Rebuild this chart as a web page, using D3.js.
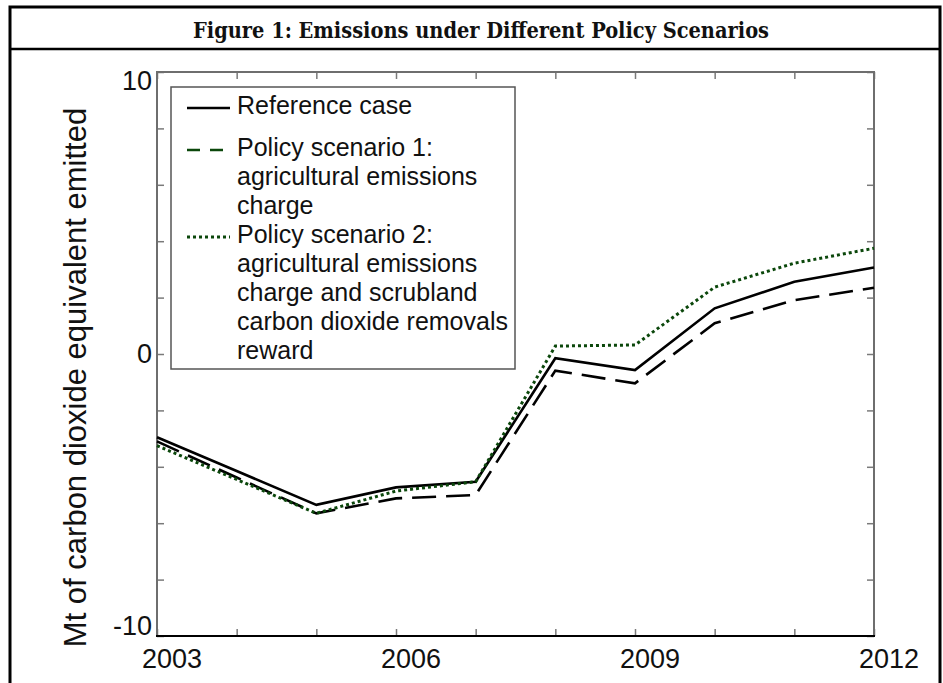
<!DOCTYPE html>
<html>
<head>
<meta charset="utf-8">
<script src="https://cdn.jsdelivr.net/npm/d3@7"></script>
<style>
  body { margin: 0; background: #fff; }
  svg { display: block; font-family: "Liberation Sans", Arial, sans-serif; }
</style>
</head>
<body>
<svg id="chart" width="943" height="683"></svg>
<script>
// values (Mt CO2-e)
const years         = [2003, 2004, 2005, 2006, 2007, 2008, 2009, 2010, 2011, 2012];
const referenceCase = [-2.95, -4.15, -5.35, -4.73, -4.53, -0.15, -0.57, 1.62, 2.56, 3.07];
const scenario1     = [-3.1, -4.38, -5.65, -5.12, -5.0, -0.59, -1.04, 1.09, 1.91, 2.35];
const scenario2     = [-3.25, -4.45, -5.65, -4.86, -4.53, 0.28, 0.32, 2.37, 3.22, 3.75];

const xTickLabels = [2003, 2006, 2009, 2012];
const yTickLabels = [10, 0, -10];

const legendLines = [
    ["Reference case"],
    ["Policy scenario 1:", "agricultural emissions", "charge"],
    ["Policy scenario 2:", "agricultural emissions", "charge and scrubland",
     "carbon dioxide removals", "reward"]
];

const green = "#0b470b";
const styles = [
    { stroke: "#000", dash: null,    legendStroke: "#000", legendDash: null,    width: 2.6 },
    { stroke: "#000", dash: "24,10", legendStroke: green,  legendDash: "13,10", width: 2.6 },
    { stroke: green,  dash: "3,3",   legendStroke: green,  legendDash: "3,3",   width: 3 }
];

const svg = d3.select("#chart");

// outer frame + title band
const frame = svg.append("g").attr("stroke", "#000").attr("fill", "none");
frame.append("rect").attr("x", 10).attr("y", 7).attr("width", 930).attr("height", 690).attr("stroke-width", 3);
frame.append("line").attr("x1", 10).attr("x2", 940).attr("y1", 49).attr("y2", 49).attr("stroke-width", 2.5);

svg.append("text")
    .attr("x", 481).attr("y", 38)
    .attr("text-anchor", "middle")
    .attr("font-family", "'DejaVu Serif Condensed', 'DejaVu Serif', serif")
    .attr("font-weight", "bold")
    .attr("font-size", 22)
    .attr("textLength", 576)
    .attr("lengthAdjust", "spacingAndGlyphs")
    .attr("fill", "#111")
    .text("Figure 1: Emissions under Different Policy Scenarios");

// plot area
const plotLeft = 157, plotRight = 874, plotTop = 72, plotBottom = 636;

const x = d3.scaleLinear().domain([2003, 2012]).range([plotLeft, plotRight]);
const y = d3.scaleLinear().domain([-10, 10]).range([plotBottom, plotTop]);

const tickColor = "#7a7a7a";
const yearTicks = d3.range(2003, 2013);
const valueTicks = d3.range(-10, 11, 2);

function styleAxis(g) {
    g.select(".domain").remove();
    g.selectAll("text").remove();
    g.selectAll(".tick line").attr("stroke", tickColor).attr("stroke-width", 1.5);
}

svg.append("g").attr("transform", `translate(0,${plotBottom})`)
    .call(d3.axisBottom(x).tickValues(yearTicks).tickSize(-7)).call(styleAxis);
svg.append("g").attr("transform", `translate(0,${plotTop})`)
    .call(d3.axisTop(x).tickValues(yearTicks).tickSize(-7)).call(styleAxis);
svg.append("g").attr("transform", `translate(${plotLeft},0)`)
    .call(d3.axisLeft(y).tickValues(valueTicks).tickSize(-7)).call(styleAxis);
svg.append("g").attr("transform", `translate(${plotRight},0)`)
    .call(d3.axisRight(y).tickValues(valueTicks).tickSize(-7)).call(styleAxis);

// axis box: bottom black, the others grey
svg.append("path")
    .attr("d", `M${plotLeft},${plotBottom}V${plotTop}H${plotRight}V${plotBottom}`)
    .attr("fill", "none").attr("stroke", "#6e6e6e").attr("stroke-width", 2);
svg.append("line")
    .attr("x1", plotLeft - 1).attr("x2", plotRight + 1).attr("y1", plotBottom).attr("y2", plotBottom)
    .attr("stroke", "#000").attr("stroke-width", 2);

// tick labels
svg.append("g").selectAll("text")
    .data(xTickLabels)
    .join("text")
    .attr("x", d => x(d) + 15)
    .attr("y", 668)
    .attr("text-anchor", "middle")
    .attr("font-size", 27)
    .attr("fill", "#111")
    .text(d => d);

svg.append("g").selectAll("text")
    .data(yTickLabels)
    .join("text")
    .attr("x", 152)
    .attr("y", d => Math.min(Math.max(y(d), plotTop + 9), plotBottom - 10))
    .attr("dy", "0.35em")
    .attr("text-anchor", "end")
    .attr("font-size", 27)
    .attr("fill", "#111")
    .text(d => d);

svg.append("text")
    .attr("transform", `translate(86,${(102 + 653) / 2}) rotate(-90)`)
    .attr("text-anchor", "middle")
    .attr("font-size", 31)
    .attr("fill", "#111")
    .text("Mt of carbon dioxide equivalent emitted");

// series
const line = d3.line()
    .x((d, i) => x(years[i]))
    .y(d => y(d));

[referenceCase, scenario1, scenario2].forEach((vals, i) => {
    const s = styles[i];
    svg.append("path")
        .datum(vals)
        .attr("d", line)
        .attr("fill", "none")
        .attr("stroke", s.stroke)
        .attr("stroke-width", s.width)
        .attr("stroke-dasharray", s.dash)
        .attr("stroke-linejoin", "miter");
});

// legend
const legend = svg.append("g");
legend.append("rect")
    .attr("x", 171).attr("y", 87).attr("width", 344).attr("height", 282)
    .attr("fill", "#fff").attr("stroke", "#555").attr("stroke-width", 1.5);

let ly = 105;
legendLines.forEach((lines, i) => {
    const s = styles[i];
    legend.append("line")
        .attr("x1", 187).attr("x2", 230).attr("y1", ly + 3).attr("y2", ly + 3)
        .attr("stroke", s.legendStroke)
        .attr("stroke-width", s.width)
        .attr("stroke-dasharray", s.legendDash);
    lines.forEach((t, j) => {
        legend.append("text")
            .attr("x", 237).attr("y", ly + j * 29)
            .attr("dy", "0.35em")
            .attr("font-size", 25)
            .attr("fill", "#111")
            .text(t);
    });
    ly += i === 0 ? 42 : lines.length * 29;
});
</script>
</body>
</html>
